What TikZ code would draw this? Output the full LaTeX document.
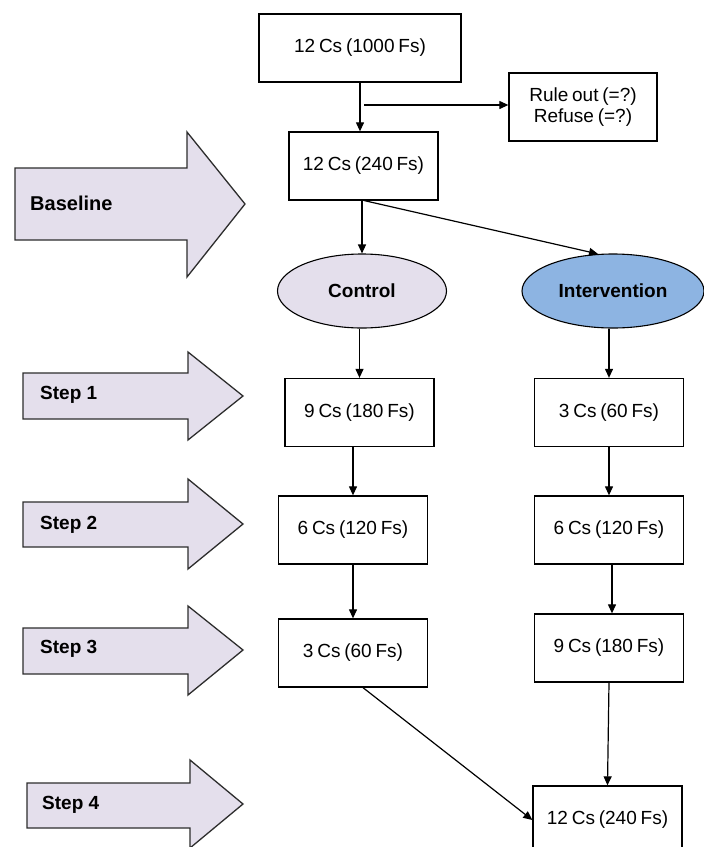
\documentclass[tikz,border=0pt]{standalone}
\usepackage{fontspec}
\setmainfont{Liberation Sans}
\usetikzlibrary{arrows.meta,shapes.geometric}
\definecolor{lav}{RGB}{228,223,236}
\definecolor{ibl}{RGB}{141,180,226}
\definecolor{edgegray}{RGB}{45,45,45}
\newcommand{\myboxfont}{\fontsize{19}{21}\selectfont\spaceskip 0.2em\relax}
\begin{document}
\begin{tikzpicture}[x=1pt,y=-1pt,
  box/.style={draw=black, line width=1.3pt, minimum width=149pt, minimum height=68pt, inner sep=0pt,
    font=\myboxfont, align=center},
  oval/.style={ellipse, draw=black, line width=1.1pt, inner sep=0pt, minimum height=74pt,
    font=\bfseries\fontsize{19}{22}\selectfont},
  conn/.style={draw=black, line width=1.2pt, -{Triangle[length=9pt,width=8pt]}},
  bigarrow/.style={draw=edgegray, line width=1.3pt, fill=lav, line join=miter},
  lbl/.style={font=\bfseries\fontsize{19}{22}\selectfont, anchor=base west, inner sep=0pt}]
\useasboundingbox (0,0) rectangle (704,847);
\clip (0,0) rectangle (704,847);
\fill[white] (0,0) rectangle (704,847);

% side arrows
\draw[bigarrow] (15,168) -- (187,168) -- (187,132) -- (245,204) -- (187,277) -- (187,240) -- (15,240) -- cycle;
\node[lbl, font=\bfseries\fontsize{20}{22}\selectfont] (lbase) at (30,210) {Baseline};
\draw[bigarrow] (23,373) -- (188,373) -- (188,352) -- (243,396) -- (188,440) -- (188,419) -- (23,419) -- cycle;
\node[lbl] (ls1) at (40,399) {Step 1};
\draw[bigarrow] (23,502) -- (188,502) -- (188,479) -- (243,524) -- (188,569) -- (188,547) -- (23,547) -- cycle;
\node[lbl] (ls2) at (40,529) {Step 2};
\draw[bigarrow] (23,628) -- (188,628) -- (188,606) -- (243,650) -- (188,695) -- (188,674) -- (23,674) -- cycle;
\node[lbl] (ls3) at (40,653) {Step 3};
\draw[bigarrow] (27,783) -- (190,783) -- (190,760) -- (243,804) -- (190,848) -- (190,828) -- (27,828) -- cycle;
\node[lbl] (ls4) at (42,809) {Step 4};

% boxes
\node[box, minimum width=202pt] (top) at (360,48) {12 Cs (1000 Fs)};
\node[box, minimum width=148pt] (rule) at (583,107) {Rule out (=?)\\Refuse (=?)};
\node[box] (b240) at (363.5,166) {12 Cs (240 Fs)};
\node[oval, fill=lav, minimum width=169pt] (ctrl) at (362,291) {Control};
\node[oval, fill=ibl, minimum width=182pt] (interv) at (613,291) {Intervention};
\node[box] (c1) at (359.5,412.5) {9 Cs (180 Fs)};
\node[box] (i1) at (609,412.5) {3 Cs (60 Fs)};
\node[box] (c2) at (353,530) {6 Cs (120 Fs)};
\node[box] (i2) at (609,530) {6 Cs (120 Fs)};
\node[box] (c3) at (353,653) {3 Cs (60 Fs)};
\node[box] (i3) at (609,648) {9 Cs (180 Fs)};
\node[box] (final) at (607.5,820) {12 Cs (240 Fs)};

% connectors
\draw[conn] (top.south) -- (top.south |- b240.north);
\coordinate (br) at (364,105);
\draw[conn] (br) -- (br -| rule.west);
\draw[conn] (ctrl.north |- b240.south) -- (ctrl.north);
\draw[conn] ([xshift=1pt]b240.south) -- (interv.112);
\draw[conn] (c1.north |- ctrl.south) -- (c1.north);
\draw[conn] (i1.north |- interv.south) -- (i1.north);
\draw[conn] (c2.north |- c1.south) -- (c2.north);
\draw[conn] (i1.south) -- (i2.north);
\draw[conn] (c2.south) -- (c3.north);
\draw[conn] ([xshift=3pt]i2.south) -- ([xshift=3pt]i2.south |- i3.north);
\draw[conn] ([xshift=10pt]c3.south) -- (final.west);
\draw[conn] (i3.south) -- (final.north);
\end{tikzpicture}
\end{document}
